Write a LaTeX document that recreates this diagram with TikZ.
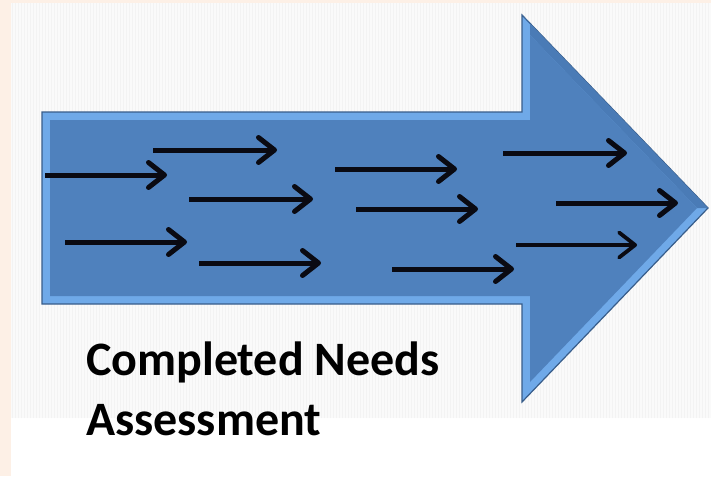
\documentclass[tikz,border=0pt]{standalone}
\usepackage{fontspec}
\setmainfont{Carlito}
\usetikzlibrary{arrows.meta}
\definecolor{peach}{HTML}{FDF0E6}
\definecolor{panel}{HTML}{FAFAFA}
\definecolor{gridc}{HTML}{F3F3F3}
\definecolor{bevL}{HTML}{6FA9E8}
\definecolor{bevD}{HTML}{4A7BB6}
\definecolor{fillc}{HTML}{4F81BD}
\definecolor{edgec}{HTML}{385D8A}
\definecolor{ink}{HTML}{0A0A12}
\begin{document}
\begin{tikzpicture}[x=1pt,y=-1pt,
  blk/.style={draw=ink, line width=5pt, line cap=butt, line join=round,
    -{Straight Barb[length=16pt,width=25pt,line join=round,line cap=round]}},
  lbl/.style={anchor=base west, inner sep=0pt, font=\fontsize{48}{56}\selectfont\bfseries, text=black}]
\useasboundingbox (0,0) rectangle (711,476);
% background
\fill[peach] (0,0) rectangle (711,476);
\fill[white] (11,3) rectangle (711,476);
\fill[panel] (11,3) rectangle (711,418);
\draw[gridc, line width=0.3pt, step=3] (11,3) grid (711,418);
% big arrow
\filldraw[fill=bevL, draw=edgec, line width=1.2pt, line join=miter]
  (42,112) -- (522,112) -- (522,15) -- (708,208) -- (522,402) -- (522,304) -- (42,304) -- cycle;
\fill[bevD] (522,15) -- (708,208) -- (697,208) -- (530,35) -- (530,24) -- cycle;
\fill[fillc] (50,120) -- (530,120) -- (530,35) -- (697,208) -- (530,382) -- (530,296) -- (50,296) -- cycle;
% small arrows
\coordinate (s1) at (45,175);  \coordinate (e1) at (167,175);
\coordinate (s2) at (153,150); \coordinate (e2) at (277,150);
\coordinate (s3) at (189,199); \coordinate (e3) at (313,199);
\coordinate (s4) at (65,242);  \coordinate (e4) at (187,242);
\coordinate (s5) at (199,263); \coordinate (e5) at (321,263);
\coordinate (s6) at (335,169); \coordinate (e6) at (457,169);
\coordinate (s7) at (356,209); \coordinate (e7) at (478,209);
\coordinate (s8) at (392,269); \coordinate (e8) at (514,269);
\coordinate (s9) at (503,153); \coordinate (e9) at (627,153);
\coordinate (s10) at (556,203); \coordinate (e10) at (678,203);
\coordinate (s11) at (516,245); \coordinate (e11) at (637,245);
\foreach \i in {1,...,10} {\draw[blk] (s\i) -- (e\i);}
\draw[blk, line width=3.8pt] (s11) -- (e11);
% label
\node[lbl] (t1) at (86,375) {Completed Needs};
\node[lbl] (t2) at (86,435) {Assessment};
\end{tikzpicture}
\end{document}
